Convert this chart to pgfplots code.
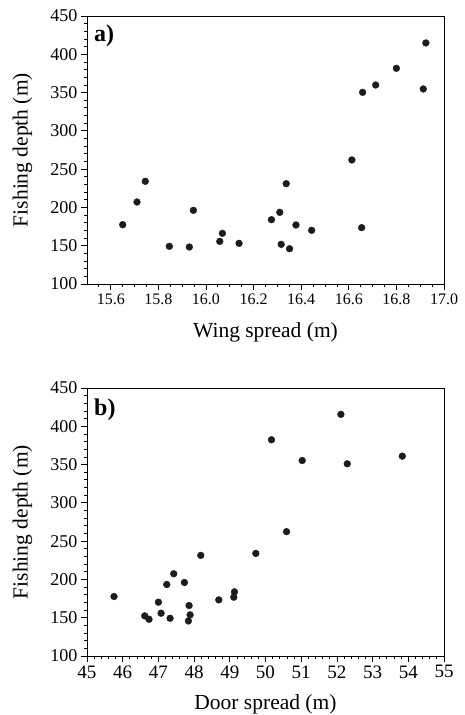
\documentclass[border=0pt]{standalone}
\usepackage{fontspec}
\setmainfont{Liberation Serif}
\usepackage{pgfplots}
\pgfplotsset{compat=1.18}
\definecolor{dotc}{HTML}{1C1C1C}
\begin{document}
\begin{tikzpicture}
\pgfplotsset{
  myaxis/.style={
    scale only axis, width=357pt, height=268pt,
    axis line style={black, line width=0.9pt},
    tick style={black, line width=0.8pt},
    tick align=outside, tick pos=left,
    major tick length=6pt, minor tick length=3pt,
    ymin=100, ymax=450,
    ytick={100,150,...,450},
    minor ytick={100,110,...,450},
    /pgf/number format/assume math mode=true,
    yticklabel style={font=\fontsize{18}{20}\selectfont},
    every axis y label/.style={at={(rel axis cs:0,0.5)}, xshift=-64.5pt, rotate=90, anchor=center, font=\fontsize{21.5}{24}\selectfont},
    ylabel={Fishing depth (m)},
  },
}
\begin{axis}[myaxis, name=a, at={(0,0)}, anchor=south west,
  xmin=15.5, xmax=17.0,
  xtick={15.6,15.8,16.0,16.2,16.4,16.6,16.8,17.0},
  minor xtick={15.55,15.65,15.7,15.75,15.85,15.9,15.95,16.05,16.1,16.15,16.25,16.3,16.35,16.45,16.5,16.55,16.65,16.7,16.75,16.85,16.9,16.95},
  xticklabel style={font=\fontsize{16}{18}\selectfont, /pgf/number format/.cd, fixed, fixed zerofill, precision=1},
  every axis x label/.style={at={(rel axis cs:0.5,0)}, yshift=-53pt, anchor=base, font=\fontsize{21.5}{24}\selectfont},
  xlabel={Wing spread (m)},
]
\addplot[only marks, mark=*, mark size=3.4pt, color=dotc] coordinates {
(15.650,177.5) (15.710,207.1) (15.745,234.1) (15.846,149.2) (15.930,148.3)
(15.947,196.2) (16.058,155.7) (16.069,166.2) (16.139,153.1) (16.275,184.0)
(16.310,193.6) (16.337,231.0) (16.316,151.8) (16.351,146.1) (16.378,177.1)
(16.444,170.1) (16.613,262.0) (16.654,173.6) (16.658,350.3) (16.713,359.9)
(16.800,381.7) (16.913,354.7) (16.924,414.8)
};
\node[anchor=base west, inner sep=0pt, font=\fontsize{24}{26}\selectfont\bfseries] at (rel axis cs:0,1) [xshift=7pt, yshift=-25.7pt] {a)};
\end{axis}
\begin{axis}[myaxis, name=b, at={(0,-372pt)}, anchor=south west,
  xmin=45, xmax=55,
  xtick={45,46,...,55},
  minor xtick={45,45.2,...,55},
  xticklabel style={font=\fontsize{19}{21}\selectfont},
  every axis x label/.style={at={(rel axis cs:0.5,0)}, yshift=-53pt, anchor=base, font=\fontsize{21.5}{24}\selectfont},
  xlabel={Door spread (m)},
]
\addplot[only marks, mark=*, mark size=3.4pt, color=dotc] coordinates {
(45.757,177.7) (46.617,152.4) (46.738,148.0) (47.000,170.3) (47.075,155.9)
(47.234,193.4) (47.327,149.3) (47.430,207.4) (47.729,196.0) (47.860,165.9)
(47.888,153.7) (47.841,145.8) (48.187,231.4) (48.692,173.3) (49.112,176.8)
(49.131,183.8) (49.729,234.0) (50.168,382.4) (50.589,262.4) (51.028,355.3)
(52.112,415.6) (52.290,351.0) (53.832,361.0)
};
\node[anchor=base west, inner sep=0pt, font=\fontsize{24}{26}\selectfont\bfseries] at (rel axis cs:0,1) [xshift=7pt, yshift=-27pt] {b)};
\end{axis}
\pgfresetboundingbox
\path[use as bounding box] (-87pt,-431pt) rectangle (378pt,284pt);
\end{tikzpicture}
\end{document}
